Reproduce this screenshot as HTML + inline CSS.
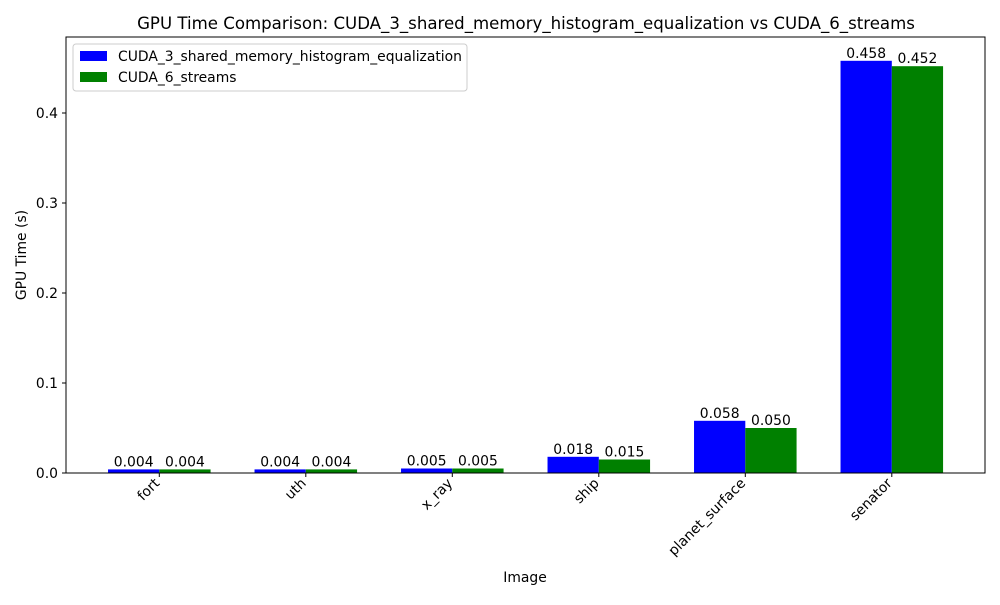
<!DOCTYPE html>
<html><head><meta charset="utf-8"><style>
body{margin:0;background:#fff}
text{font-family:"DejaVu Sans","Liberation Sans",sans-serif;fill:#000}
</style></head><body>
<svg id="chart" width="1000" height="600" xmlns="http://www.w3.org/2000/svg">
<text x="526" y="29" font-size="16.6" text-anchor="middle">GPU Time Comparison: CUDA_3_shared_memory_histogram_equalization vs CUDA_6_streams</text>
<g id="plot"></g>
<rect x="66" y="37" width="919" height="436" fill="none" stroke="#000" stroke-width="1"/>
<text x="525" y="582" font-size="13.9" text-anchor="middle">Image</text>
<text transform="translate(26,255) rotate(-90)" font-size="13.9" text-anchor="middle">GPU Time (s)</text>
<g>
<rect x="73" y="44" width="394" height="47" fill="#fff" stroke="#ccc" rx="3"/>
<rect x="80" y="51" width="27" height="10" fill="#0000ff"/>
<text x="118" y="61" font-size="13.9">CUDA_3_shared_memory_histogram_equalization</text>
<rect x="80" y="72" width="27" height="10" fill="#008000"/>
<text x="118" y="82" font-size="13.9">CUDA_6_streams</text>
</g>
</svg>
<script>
const categories=["fort","uth","x_ray","ship","planet_surface","senator"];
const cuda3=[0.004,0.004,0.005,0.018,0.058,0.458];
const cuda6=[0.004,0.004,0.005,0.015,0.050,0.452];
const yTicks=[0,0.1,0.2,0.3,0.4];
const NS="http://www.w3.org/2000/svg";
const g=document.getElementById('plot');
const X=v=>159.3+v*146.5;
const Y=v=>473-v*900;
const bw=0.35;
function mk(t,a,txt){const e=document.createElementNS(NS,t);for(const k in a)e.setAttribute(k,a[k]);if(txt!==undefined)e.textContent=txt;g.appendChild(e);return e;}
yTicks.forEach(t=>{
  const l=mk('line',{x1:62,x2:66,y1:Y(t),y2:Y(t),stroke:'#000'});
  
  
  const tx=mk('text',{x:58,y:Y(t)+5,'font-size':13.9,'text-anchor':'end'},t.toFixed(1));
  
  
});
categories.forEach((c,i)=>{
  const l=mk('line',{x1:X(i),x2:X(i),y1:473,y2:477,stroke:'#000'});
  
  
  const tx=mk('text',{transform:`translate(${X(i)+1},${484}) rotate(-45)`,'font-size':13.9,'text-anchor':'end'},c);
  
  
  [[cuda3,-1,'#0000ff','bar-cuda3'],[cuda6,0,'#008000','bar-cuda6']].forEach(([arr,off,col,nm])=>{
    const v=arr[i];
    const x0=X(i+off*bw);
    const r=mk('rect',{x:x0,y:Y(v),width:bw*146.5,height:Y(0)-Y(v),fill:col});
    
    
    const lb=mk('text',{x:x0+bw*146.5/2,y:Y(v)-3,'font-size':13.9,'text-anchor':'middle'},v.toFixed(3));
    
    
  });
});
</script>
</body></html>
